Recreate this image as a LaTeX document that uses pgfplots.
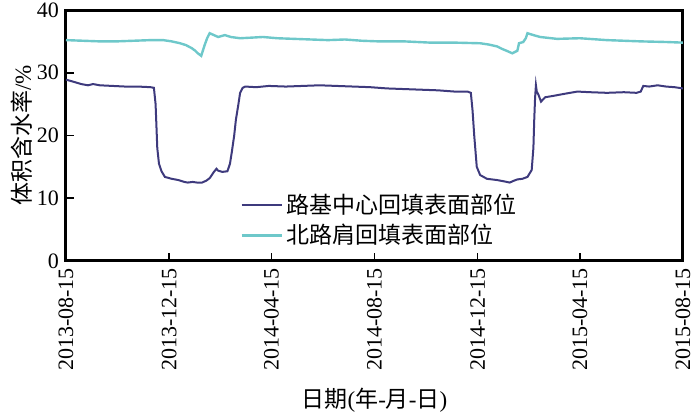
\documentclass[border=0pt]{standalone}
\usepackage{fontspec}
\setmainfont{Liberation Serif}
\newfontfamily\cjk{Noto Sans CJK SC}
\newfontfamily\lserif{Liberation Serif}
\usepackage{pgfplots}
\pgfplotsset{compat=1.18}
\definecolor{cpurple}{RGB}{62,58,125}
\definecolor{ccyan}{RGB}{110,200,202}
\begin{document}
\begin{tikzpicture}
\begin{axis}[
  scale only axis, width=308.5pt, height=125.5pt,
  xmin=0, xmax=730, ymin=0, ymax=40,
  xtick={0,122,243,365,487,608,730},
  xticklabels={2013-08-15,2013-12-15,2014-04-15,2014-08-15,2014-12-15,2015-04-15,2015-08-15},
  ytick={0,10,20,30,40},
  tick align=inside, xtick pos=bottom, ytick pos=left,
  major tick length=4pt,
  tick style={line width=0.8pt, black},
  axis line style={line width=1.5pt},
  x tick label style={rotate=90, anchor=east, font=\lserif\fontsize{11}{12}\selectfont},
  y tick label style={font=\lserif\fontsize{11}{12}\selectfont},
  /pgf/number format/assume math mode=true,
  xlabel={\cjk 日期\lserif(\cjk 年\lserif-\cjk 月\lserif-\cjk 日\lserif)},
  ylabel={\cjk 体积含水率\lserif/\%},
  xlabel style={at={(axis description cs:0.5,-0.554)}, anchor=center, font=\fontsize{11.5}{13}\selectfont},
  ylabel style={at={(axis description cs:-0.0713,0.5)}, anchor=center, font=\fontsize{11.5}{13}\selectfont},
  legend style={at={(axis description cs:0.282,0.285)}, anchor=north west, draw=none, fill=none,
    font=\cjk\fontsize{11.5}{13}\selectfont, inner sep=0pt, row sep=0pt, cells={anchor=west}},
  legend image code/.code={\draw[#1] (0pt,0pt) -- (20pt,0pt);},
]
\addplot[cpurple, line width=1pt] coordinates {
(0,28.9) (8,28.6) (18,28.2) (26,28.0) (32,28.2) (40,28.0) (55,27.9) (70,27.8) (85,27.8) (100,27.7)
(104,27.6) (106,25.0) (108,18.0) (110,15.5) (113,14.3) (117,13.4) (125,13.1) (133,12.9) (140,12.6)
(144,12.5) (150,12.6) (155,12.5) (161,12.5) (166,12.8) (170,13.2) (175,14.2) (178,14.7) (180,14.4)
(185,14.2) (191,14.3) (194,15.5) (196,17.2) (199,20.0) (201,22.5) (204,25.0) (206,26.8) (209,27.6)
(212,27.8) (225,27.7) (240,27.9) (260,27.8) (280,27.9) (300,28.0) (320,27.9) (340,27.8) (360,27.7)
(380,27.5) (400,27.4) (420,27.3) (440,27.2) (460,27.0) (475,27.0) (479,26.8) (481,24.0) (483,20.0)
(486,15.0) (490,13.7) (498,13.1) (510,12.9) (518,12.7) (525,12.5) (530,12.8) (534,13.0) (540,13.1)
(546,13.4) (551,14.5) (553,18.0) (554,22.5) (555,26.0) (556,28.0) (557,27.0) (559,26.5) (562,25.4)
(567,26.1) (576,26.3) (588,26.6) (605,27.0) (620,26.9) (640,26.8) (660,26.9) (675,26.8) (680,27.0)
(683,27.9) (690,27.8) (700,28.0) (710,27.8) (720,27.7) (730,27.5)
};
\addlegendentry{路基中心回填表面部位}
\addplot[ccyan, line width=1.2pt] coordinates {
(0,35.2) (20,35.1) (40,35.0) (60,35.0) (80,35.1) (100,35.2) (115,35.2) (125,35.0) (135,34.7)
(142,34.4) (149,33.9) (153,33.5) (156,33.1) (160,32.7) (164,34.4) (167,35.5) (170,36.3) (175,36.0)
(180,35.7) (188,36.0) (195,35.7) (206,35.5) (220,35.6) (233,35.7) (250,35.5) (270,35.4) (290,35.3)
(310,35.2) (330,35.3) (350,35.1) (370,35.0) (400,35.0) (431,34.8) (460,34.8) (490,34.7) (500,34.5)
(510,34.2) (516,33.8) (523,33.4) (528,33.1) (534,33.5) (536,34.7) (541,34.9) (544,35.5) (546,36.3)
(553,36.0) (561,35.7) (581,35.4) (608,35.5) (640,35.2) (680,35.0) (710,34.9) (730,34.8)
};
\addlegendentry{北路肩回填表面部位}
\end{axis}
\pgfresetboundingbox
\path (-33pt,-77.5pt) rectangle (317pt,130.5pt);
\end{tikzpicture}
\end{document}
